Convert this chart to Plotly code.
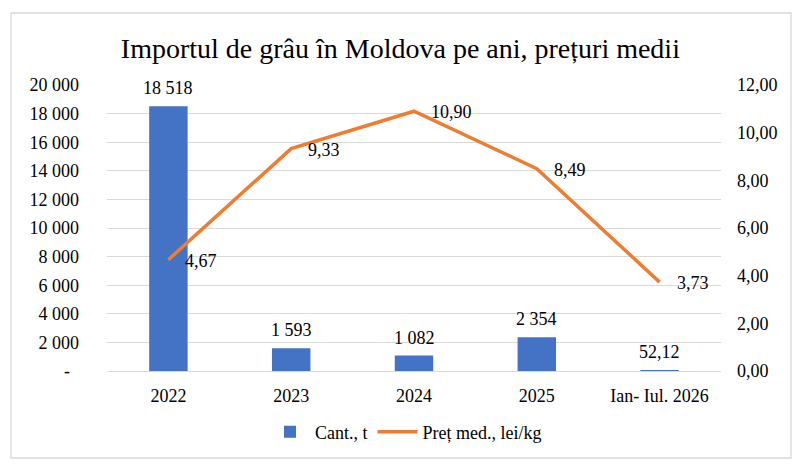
import plotly.graph_objects as go

categories = ["2022", "2023", "2024", "2025", "Ian- Iul. 2026"]
quantity_t = [18518, 1593, 1082, 2354, 52.12]
price_lei_kg = [4.67, 9.33, 10.90, 8.49, 3.73]
left_ticks = [0, 2000, 4000, 6000, 8000, 10000, 12000, 14000, 16000, 18000, 20000]
right_ticks = [0, 2, 4, 6, 8, 10, 12]

FONT = "Liberation Serif"
FS = 18
BLUE = "#4472C4"
ORANGE = "#ED7D31"
GRID = "#D9D9D9"

xpos = list(range(len(categories)))


def fmt_qty(v):
    if float(v).is_integer():
        return f"{int(v):,}".replace(",", " ")
    return f"{v:.2f}".replace(".", ",")


def fmt_left(v):
    if v == 0:
        return "-\u00a0\u00a0"
    return f"{v:,}".replace(",", " ")


fig = go.Figure()
fig.add_trace(go.Bar(
    x=xpos, y=quantity_t, name="Cant., t",
    marker=dict(color=BLUE, line=dict(width=0)),
    width=0.313,
    yaxis="y",
))
fig.add_trace(go.Scatter(
    x=xpos, y=price_lei_kg, name="Preț med., lei/kg",
    mode="lines", line=dict(color=ORANGE, width=3.5),
    yaxis="y2",
))

annotations = []
for i, v in zip(xpos, quantity_t):
    annotations.append(dict(
        x=i, y=v, xref="x", yref="y", text=fmt_qty(v), showarrow=False,
        yanchor="middle", xanchor="center", yshift=18,
        font=dict(family=FONT, size=FS, color="#000000"),
    ))
for i, v in zip(xpos, price_lei_kg):
    annotations.append(dict(
        x=i, y=v, xref="x", yref="y2", text=f"{v:.2f}".replace(".", ","),
        showarrow=False, xanchor="left", yanchor="middle", xshift=15, yshift=-1,
        font=dict(family=FONT, size=FS, color="#000000"),
    ))

L, R, T, B = 107, 83, 85, 99
W, H = 804, 470
pw, ph = W - L - R, H - T - B


def px(x):
    return (x - L) / pw


def py(y):
    return (H - B - y) / ph


fig.update_layout(
    width=W, height=H,
    margin=dict(l=L, r=R, t=T, b=B, pad=0, autoexpand=False),
    paper_bgcolor="white", plot_bgcolor="white",
    separators=", ",
    font=dict(family=FONT, size=FS, color="#000000"),
    title=dict(
        text="Importul de grâu în Moldova pe ani, prețuri medii",
        x=0.498, xref="container", xanchor="center",
        y=1 - 48 / H, yref="container", yanchor="middle",
        font=dict(family=FONT, size=28, color="#000000"),
    ),
    showlegend=True,
    legend=dict(
        orientation="h", x=px(406), xanchor="center", y=py(432), yanchor="middle",
        font=dict(family=FONT, size=FS, color="#000000"),
        itemwidth=40, traceorder="normal", bgcolor="rgba(0,0,0,0)",
    ),
    xaxis=dict(
        range=[-0.5, len(categories) - 0.5], tickvals=xpos, ticktext=categories,
        showgrid=False, ticks="", showline=True, zeroline=False,
        linecolor=GRID, linewidth=1.3, ticklabelstandoff=8,
        tickfont=dict(family=FONT, size=FS, color="#000000"),
    ),
    yaxis=dict(
        range=[0, 20000], tickvals=left_ticks,
        ticktext=[fmt_left(v) for v in left_ticks],
        showgrid=True, gridcolor=GRID, gridwidth=1.3, zeroline=False,
        ticks="", ticklabelstandoff=27,
        tickfont=dict(family=FONT, size=FS, color="#000000"),
    ),
    yaxis2=dict(
        range=[0, 12], tickvals=right_ticks, tickformat=",.2f",
        overlaying="y", side="right", showgrid=False, zeroline=False,
        ticks="", ticklabelstandoff=15,
        tickfont=dict(family=FONT, size=FS, color="#000000"),
    ),
    annotations=annotations,
    shapes=[dict(
        type="rect", xref="paper", yref="paper",
        x0=px(11), x1=px(791), y0=py(458), y1=py(13),
        line=dict(color=GRID, width=1.3), fillcolor="rgba(0,0,0,0)", layer="below",
    )],
)

fig.write_html(
    "out.html",
    config={"displayModeBar": False},
    post_script="document.body.style.margin='0';",
)
